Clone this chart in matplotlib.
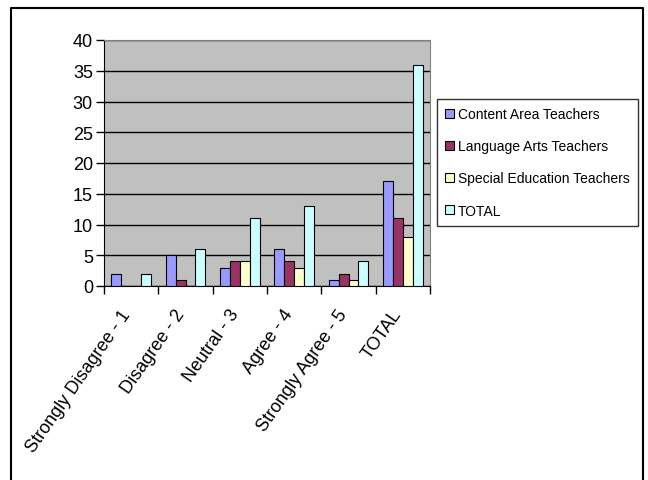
import matplotlib.pyplot as plt
import numpy as np

plt.rcParams['font.family'] = ['Liberation Sans', 'DejaVu Sans']

categories = ['Strongly Disagree - 1', 'Disagree - 2', 'Neutral - 3', 'Agree - 4',
              'Strongly Agree - 5', 'TOTAL']
series_names = ['Content Area Teachers', 'Language Arts Teachers',
                'Special Education Teachers', 'TOTAL']
content_area = [2, 5, 3, 6, 1, 17]
language_arts = [0, 1, 4, 4, 2, 11]
special_ed = [0, 0, 4, 3, 1, 8]
total = [2, 6, 11, 13, 4, 36]
colors = ['#9999FF', '#993366', '#FFFFCC', '#CCFFFF']

fig = plt.figure(figsize=(6.48, 4.81), dpi=100)
# outer chart border (open at bottom)
fig.add_artist(plt.Line2D([11/648, 11/648, 643/648, 643/648],
                          [0, 1 - 9/481, 1 - 9/481, 0],
                          color='black', lw=1.5, transform=fig.transFigure))

ax = fig.add_axes([104/648, 1 - 287/481, (430-104)/648, (287-41)/481])
ax.set_facecolor('#C0C0C0')
x = np.arange(len(categories))
w = 0.182
for i, (vals, c, n) in enumerate(zip([content_area, language_arts, special_ed, total], colors, series_names)):
    ax.bar(x + (i - 1.5) * w, vals, w, color=c, edgecolor='black', linewidth=0.8, label=n, zorder=3)

ax.set_xlim(-0.5, len(categories) - 0.5)
ax.set_ylim(0, 40)
ax.set_yticks(range(0, 41, 5))
ax.yaxis.grid(True, color='black', linewidth=1, zorder=1)
ax.set_axisbelow(True)
ax.set_xticks(np.arange(len(categories) + 1) - 0.5)
ax.set_xticklabels([])
ax.set_xticks(x - 0.08, minor=True)
ax.set_xticklabels(categories, minor=True, rotation=55, ha='right', va='center',
                   rotation_mode='anchor', fontsize=13)
ax.tick_params(axis='x', which='minor', length=0, pad=18)
ax.tick_params(axis='x', which='major', length=6, width=1, direction='out')
ax.tick_params(axis='y', length=6, width=1, direction='out', labelsize=13, pad=2)
for s in ['top', 'right']:
    ax.spines[s].set_color('#808080')
for s in ['left', 'bottom']:
    ax.spines[s].set_color('black')

leg = fig.legend(loc='upper left', bbox_to_anchor=(437/648, 1 - 100/481),
                 fontsize=10, frameon=True, fancybox=False, edgecolor='black',
                 handlelength=0.6, handleheight=0.6, handletextpad=0.3,
                 labelspacing=1.3, borderpad=0.6, borderaxespad=0)
leg.get_frame().set_linewidth(1)

fig.savefig('out.png', dpi=100)
